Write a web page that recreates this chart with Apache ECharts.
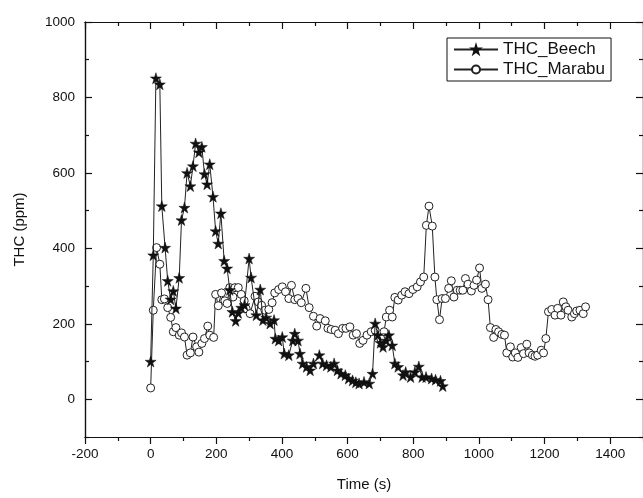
<!DOCTYPE html>
<html>
<head>
<meta charset="utf-8">
<title>THC</title>
<script src="https://cdn.jsdelivr.net/npm/echarts@6/dist/echarts.min.js"></script>
<style>
  html, body { margin: 0; padding: 0; background: #fff; }
  #chart { width: 643px; height: 498px; }
</style>
</head>
<body>
<div id="chart"></div>
<script>
// tick values
const xMajor = [-200, 0, 200, 400, 600, 800, 1000, 1200, 1400]
const xMinor = [-100, 100, 300, 500, 700, 900, 1100, 1300, 1500]
const yMajor = [0, 200, 400, 600, 800, 1000]
const yMinor = [-100, 100, 300, 500, 700, 900]

// THC_Beech
const beechTime = [0, 8, 16, 28, 34, 44, 52, 61, 69, 77, 87, 94, 103, 111, 121, 129, 137, 147, 156, 164,
  172, 180, 190, 198, 206, 214, 224, 233, 241, 249, 259, 267, 276, 286, 300, 306, 322, 334, 342, 352,
  364, 376, 380, 390, 401, 407, 421, 433, 439, 449, 455, 463, 475, 486, 496, 514, 524, 536, 549, 559,
  569, 580, 593, 603, 615, 625, 635, 650, 666, 676, 684, 692, 700, 708, 718, 726, 736, 744, 754, 769,
  777, 792, 805, 817, 827, 839, 856, 868, 883, 890]
const beechTHC = [100, 382, 851, 835, 512, 402, 314, 265, 287, 241, 322, 475, 508, 600, 565, 618, 678, 655, 669, 597,
  570, 623, 537, 446, 413, 493, 367, 347, 290, 232, 208, 229, 243, 250, 373, 323, 223, 291, 210, 217,
  201, 210, 161, 156, 165, 121, 117, 156, 174, 156, 121, 95, 86, 77, 95, 117, 95, 90, 86, 95,
  77, 68, 64, 55, 50, 45, 42, 46, 42, 68, 201, 170, 150, 139, 156, 170, 143, 95, 86, 64,
  72, 59, 72, 87, 59, 59, 55, 52, 49, 35]

// THC_Marabu
const marabuTime = [0, 8, 18, 28, 34, 42, 52, 61, 69, 77, 87, 94, 103, 111, 121, 129, 140, 147, 156, 164,
  174, 180, 192, 198, 206, 216, 226, 233, 241, 251, 257, 267, 276, 285, 291, 303, 318, 328, 338, 348,
  360, 370, 378, 390, 401, 411, 421, 429, 439, 449, 459, 473, 483, 496, 506, 516, 532, 540, 550, 562,
  572, 585, 595, 607, 617, 627, 637, 647, 659, 672, 684, 701, 711, 718, 728, 736, 744, 754, 765, 775,
  787, 799, 812, 822, 832, 840, 848, 858, 866, 872, 880, 888, 898, 908, 916, 924, 934, 943, 951, 959,
  967, 977, 985, 993, 1002, 1009, 1020, 1028, 1035, 1045, 1052, 1060, 1070, 1078, 1085, 1096, 1103, 1111, 1119, 1129,
  1136, 1146, 1153, 1163, 1171, 1179, 1190, 1197, 1204, 1212, 1222, 1232, 1240, 1250, 1257, 1265, 1272, 1283, 1291, 1298,
  1308, 1318, 1325]
const marabuTHC = [30, 236, 402, 358, 264, 266, 243, 217, 179, 190, 170, 176, 165, 117, 123, 165, 139, 125, 148, 161,
  194, 170, 164, 278, 248, 282, 261, 254, 296, 271, 296, 296, 278, 261, 240, 227, 273, 258, 249, 236,
  238, 256, 282, 291, 298, 285, 267, 302, 264, 267, 256, 294, 243, 220, 194, 214, 208, 188, 185, 183,
  174, 188, 188, 192, 170, 174, 148, 156, 170, 179, 183, 161, 179, 218, 236, 218, 270, 263, 276, 285,
  280, 291, 298, 311, 324, 461, 512, 459, 324, 264, 211, 267, 267, 294, 314, 271, 289, 289, 289, 320,
  305, 287, 302, 316, 348, 294, 305, 264, 190, 164, 185, 179, 172, 170, 123, 139, 112, 123, 111, 137,
  121, 146, 123, 117, 114, 117, 130, 123, 161, 232, 238, 223, 241, 223, 258, 245, 236, 218, 227, 234,
  236, 227, 245]

const starPath = 'path://M50,0 L61,35 L98,35 L68,57 L79,91 L50,70 L21,91 L32,57 L2,35 L39,35 Z'
const font = 'Liberation Sans'
const ink = '#111'

function pairs(xs, ys) {
  return xs.map((x, i) => [x, ys[i]])
}

function labelStyle(ticks) {
  return {
    show: true, customValues: ticks, color: ink, fontFamily: font, fontSize: 13.5, margin: 10,
    formatter: v => String(v)
  }
}

// one axis per tick set; top/right mirrors carry no labels
function xAx(pos, ticks, len, inside, labels) {
  return {
    type: 'value', position: pos, min: -200, max: 1500,
    axisLine: {show: true, onZero: false, lineStyle: {color: ink, width: 1.2}},
    axisTick: {show: true, inside: inside, length: len, customValues: ticks, lineStyle: {color: ink, width: 1.2}},
    axisLabel: labels ? labelStyle(ticks) : {show: false},
    splitLine: {show: false}
  }
}

function yAx(pos, ticks, len, labels) {
  return {
    type: 'value', position: pos, min: -100, max: 1000,
    axisLine: {show: true, onZero: false, lineStyle: {color: ink, width: 1.2}},
    axisTick: {show: true, inside: true, length: len, customValues: ticks, lineStyle: {color: ink, width: 1.2}},
    axisLabel: labels ? labelStyle(ticks) : {show: false},
    splitLine: {show: false}
  }
}

const chart = echarts.init(document.getElementById('chart'))

const xAxes = [
  xAx('bottom', xMajor, 7, false, true),
  xAx('bottom', xMinor, 4, false, false),
  xAx('top', xMajor, 7, true, false),
  xAx('top', xMinor, 4, true, false)
]
xAxes[0].name = 'Time (s)'
xAxes[0].nameLocation = 'middle'
xAxes[0].nameGap = 40
xAxes[0].nameTextStyle = {color: ink, fontFamily: font, fontSize: 15}

const yAxes = [
  yAx('left', yMajor, 7, true),
  yAx('left', yMinor, 4, false),
  yAx('right', yMajor, 7, false),
  yAx('right', yMinor, 4, false)
]
yAxes[0].name = 'THC (ppm)'
yAxes[0].nameLocation = 'middle'
yAxes[0].nameGap = 58
yAxes[0].nameTextStyle = {color: ink, fontFamily: font, fontSize: 15}

const option = {
  backgroundColor: '#fff',
  animation: false,
  grid: {left: 85, top: 22, width: 560, height: 415, containLabel: false},
  legend: {
    left: 447, top: 38,
    orient: 'vertical',
    backgroundColor: '#fff',
    borderColor: ink, borderWidth: 1, borderRadius: 0,
    padding: [3, 6, 3, 6],
    itemGap: 3,
    itemWidth: 44, itemHeight: 10,
    textStyle: {color: ink, fontFamily: font, fontSize: 17},
    data: ['THC_Beech', 'THC_Marabu']
  },
  xAxis: xAxes,
  yAxis: yAxes,
  series: [
    {
      name: 'THC_Marabu',
      type: 'line',
      data: pairs(marabuTime, marabuTHC),
      symbol: 'circle',
      symbolSize: 8,
      showAllSymbol: true,
      lineStyle: {color: '#222', width: 1},
      itemStyle: {color: '#fff', borderColor: '#222', borderWidth: 1},
      z: 2
    },
    {
      name: 'THC_Beech',
      type: 'line',
      data: pairs(beechTime, beechTHC),
      symbol: starPath,
      symbolSize: 11,
      showAllSymbol: true,
      lineStyle: {color: '#222', width: 1},
      itemStyle: {color: '#111', borderColor: '#111', borderWidth: 0.5},
      z: 3
    }
  ]
}

chart.setOption(option)
</script>
</body>
</html>
